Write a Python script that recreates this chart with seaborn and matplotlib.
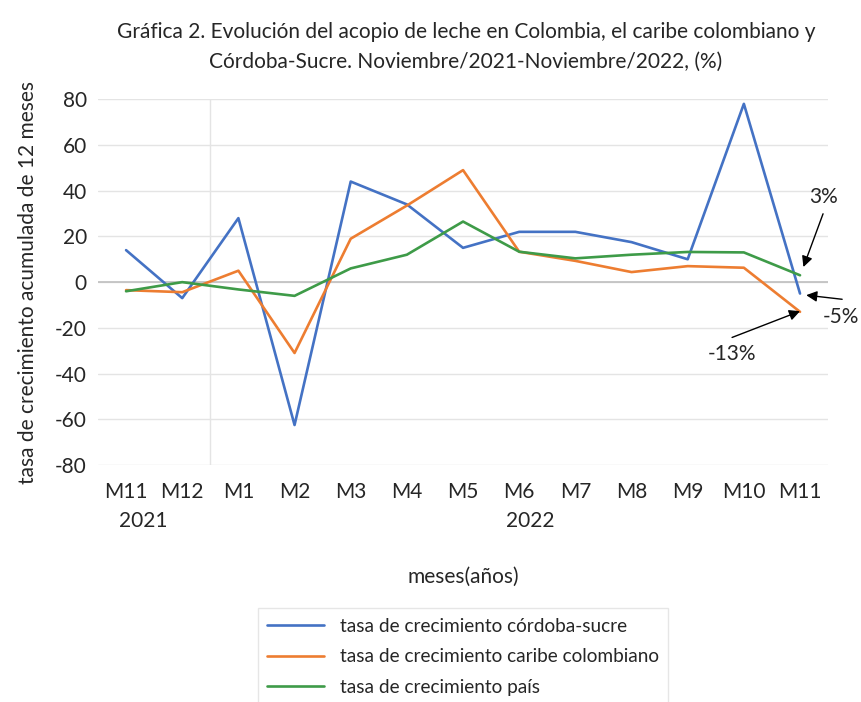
import seaborn as sns
import matplotlib.pyplot as plt
import pandas as pd

# months Nov/2021 - Nov/2022
months = ["M11", "M12", "M1", "M2", "M3", "M4", "M5", "M6", "M7", "M8", "M9", "M10", "M11"]
cordoba_sucre = [14, -7, 28, -62.5, 44, 34, 15, 22, 22, 17.5, 10, 78, -5]
caribe = [-3.5, -4.4, 5, -31, 19, 33.5, 49, 13.3, 9.3, 4.4, 7, 6.3, -13]
pais = [-4, 0, -3.2, -6, 6, 12, 26.5, 13.3, 10.4, 12, 13.2, 13, 3]
series_names = ["tasa de crecimiento córdoba-sucre",
                "tasa de crecimiento caribe colombiano",
                "tasa de crecimiento país"]
colors = ["#4472C4", "#ED7D31", "#3E9B48"]

rows = []
for name, vals in zip(series_names, [cordoba_sucre, caribe, pais]):
    for i, v in enumerate(vals):
        rows.append({"idx": i, "valor": v, "serie": name})
df = pd.DataFrame(rows)

sns.set_style("white")
plt.rcParams["font.family"] = ["Lato", "DejaVu Sans"]
plt.rcParams["axes.unicode_minus"] = False

fig = plt.figure(figsize=(8.61, 7.02), dpi=100)
ax = fig.add_axes([0.1138, 0.3376, 0.848, 0.521])

sns.lineplot(data=df, x="idx", y="valor", hue="serie", palette=colors,
             linewidth=1.9, sort=False, ax=ax)

ax.set_xlim(-0.5, 12.5)
ax.set_ylim(-80, 80)
ax.set_yticks(range(-80, 81, 20))
ax.set_xticks(range(len(months)))
ax.set_xticklabels(months)
ax.tick_params(axis="both", labelsize=15, length=0, pad=8)
ax.tick_params(axis="x", pad=12)
ax.grid(axis="y", color="#E4E4E4", linewidth=1)
ax.axhline(0, color="#BFBFBF", linewidth=1.2, zorder=1)
ax.axvline(1.5, color="#E4E4E4", linewidth=1, zorder=0)
for s in ax.spines.values():
    s.set_visible(False)

ax.set_xlabel("meses(años)", fontsize=15, labelpad=47)
ax.set_ylabel("tasa de crecimiento acumulada de 12 meses", fontsize=15, labelpad=12)

# year labels under month ticks
ax.text(0.3, -104.5, "2021", fontsize=15, ha="center", va="center")
ax.text(7.2, -104.5, "2022", fontsize=15, ha="center", va="center")

fig.text(0.541, 0.968, "Gráfica 2. Evolución del acopio de leche en Colombia, el caribe colombiano y\n"
         "Córdoba-Sucre. Noviembre/2021-Noviembre/2022, (%)",
         ha="center", va="top", fontsize=15, linespacing=1.6)

# end-point annotations: arrows and texts placed separately
arrow = dict(arrowstyle="-|>", color="black", lw=1, mutation_scale=16, shrinkA=0, shrinkB=0)
ax.annotate("", xy=(12.06, 6.6), xytext=(12.41, 29.9), arrowprops=arrow, annotation_clip=False)
ax.text(12.41, 37.4, "3%", fontsize=15, ha="center", va="center")
ax.annotate("", xy=(12.11, -5.7), xytext=(12.75, -7.5), arrowprops=arrow, annotation_clip=False)
ax.text(12.72, -15.4, "-5%", fontsize=15, ha="center", va="center")
ax.annotate("", xy=(12.0, -12.7), xytext=(10.79, -24.2), arrowprops=arrow, annotation_clip=False)
ax.text(10.79, -31.6, "-13%", fontsize=15, ha="center", va="center")

leg = ax.legend(loc="upper center", bbox_to_anchor=(0.5, -0.365), fontsize=13.7,
                frameon=True, fancybox=False, edgecolor="#E0E0E0", handlelength=3.0,
                labelspacing=0.72, borderpad=0.5)
for line in leg.get_lines():
    line.set_linewidth(1.9)

fig.savefig("out.png", dpi=100)
